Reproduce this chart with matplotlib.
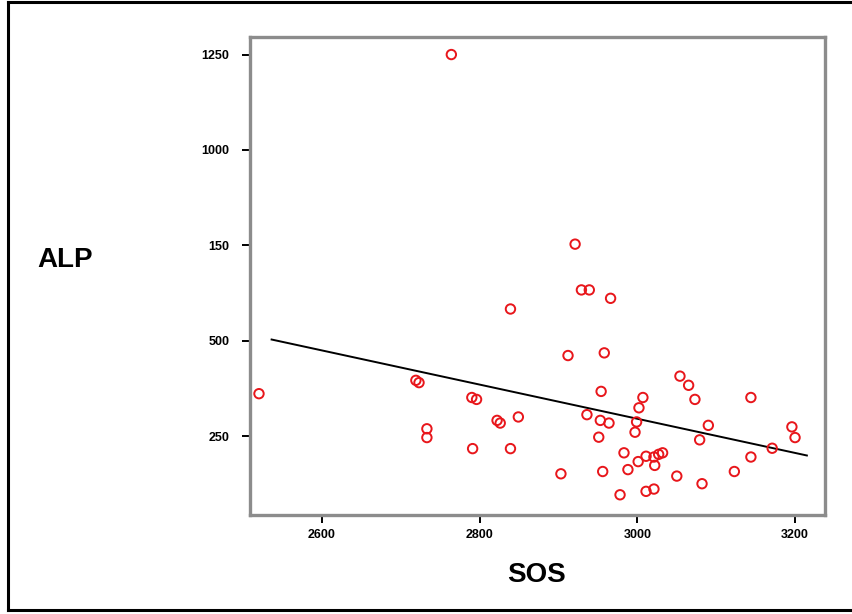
import matplotlib
matplotlib.use("Agg")
import matplotlib.pyplot as plt
from matplotlib.lines import Line2D

sos = [2520, 2764, 2921, 2929, 2939, 2966, 2839, 2912, 2958, 2719, 2723,
       2790, 2796, 2954, 3054, 3065, 3073, 3144, 3007, 3002, 2936, 2849,
       2822, 2826, 2953, 2964, 2999, 2997, 3090, 2733, 2733, 3196, 3200,
       3079, 2951, 2791, 2839, 3171, 2983, 3144, 3011, 3021, 3027, 3032,
       3022, 3001, 2988, 2956, 2903, 3050, 3123, 3082, 2978, 3011, 3021]
alp = [361, 1250, 753, 633, 633, 611, 583, 461, 468, 396, 390,
       351, 346, 367, 407, 383, 346, 351, 351, 324, 306, 300,
       291, 284, 291, 284, 287, 260, 278, 269, 246, 274, 246,
       240, 247, 217, 217, 218, 206, 195, 197, 195, 202, 206,
       173, 183, 162, 157, 151, 145, 157, 125, 96, 105, 111]

fit_x = [2536, 3215]
fit_y = [503, 199]

xticks = [2600, 2800, 3000, 3200]
yticks = [250, 500, 750, 1000, 1250]
ytick_labels = ["250", "500", "150", "1000", "1250"]

fig = plt.figure(figsize=(8.53, 6.14), dpi=100)
ax = fig.add_axes([250/853, 1-515/614, 575/853, 478/614])

ax.plot(fit_x, fit_y, color="black", lw=1.4, zorder=2)
ax.scatter(sos, alp, s=46, facecolors="none", edgecolors="#e8161b",
           linewidths=1.4, zorder=3)

ax.set_xlim(2508.6, 3238)
ax.set_ylim(43, 1296)
ax.set_xticks(xticks)
ax.set_xticklabels([str(t) for t in xticks])
ax.set_yticks(yticks)
ax.set_yticklabels(ytick_labels)
ax.tick_params(direction="out", length=6, width=1.4, color="black",
               labelsize=9)
ax.tick_params(axis="y", pad=9)
ax.tick_params(axis="x", pad=4)
for lab in ax.get_xticklabels() + ax.get_yticklabels():
    lab.set_fontweight("bold")
    lab.set_family("Liberation Sans")
for sp in ax.spines.values():
    sp.set_color("#8c8c8c")
    sp.set_linewidth(2.4)

fig.text(65/853, 1-260/614, "ALP", fontsize=20, fontweight="bold",
         family="Liberation Sans", ha="center", va="center")
fig.text(537/853, 1-575/614, "SOS", fontsize=20, fontweight="bold",
         family="Liberation Sans", ha="center", va="center")

# outer frame
for xs, ys in [([8/853, 8/853], [1-2/614, 1-610/614]),
               ([8/853, 1.0], [1-2/614, 1-2/614]),
               ([8/853, 1.0], [1-610/614, 1-610/614])]:
    fig.add_artist(Line2D(xs, ys, color="black", lw=2.2,
                          transform=fig.transFigure))

fig.savefig("out.png", dpi=100)
